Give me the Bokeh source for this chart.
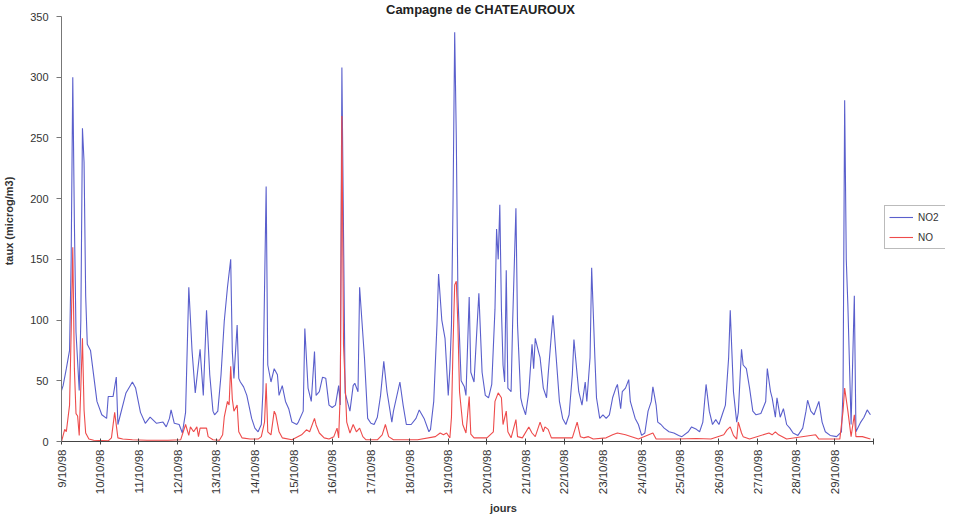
from bokeh.plotting import figure
from bokeh.models import Range1d, FixedTicker, Legend, LegendItem, Label
from bokeh.embed import file_html
from bokeh.resources import INLINE

title_text = "Campagne de CHATEAUROUX"
day_labels = ["9/10/98", "10/10/98", "11/10/98", "12/10/98", "13/10/98", "14/10/98",
              "15/10/98", "16/10/98", "17/10/98", "18/10/98", "19/10/98", "20/10/98",
              "21/10/98", "22/10/98", "23/10/98", "24/10/98", "25/10/98", "26/10/98",
              "27/10/98", "28/10/98", "29/10/98"]
y_ticks = [0, 50, 100, 150, 200, 250, 300, 350]

# hours since 9/10/98 00:00 and concentrations (microg/m3)
no2_hours = [0, 1, 3, 5, 6, 7, 8, 9, 11, 12, 13, 14, 15, 16, 18, 20, 22, 25, 28, 29, 32, 34, 35, 40,
             44, 46, 49, 52, 55, 59, 63, 65, 67, 68, 70, 73, 75, 77, 79, 81, 83, 86, 88, 90, 92, 94,
             95, 97, 99, 101, 103, 105, 106, 107, 109, 110, 111, 113, 115, 118, 120, 122, 124, 125,
             127, 128, 130, 132, 134, 135, 137, 139, 141, 143, 146, 147, 150, 151, 153, 155, 157, 158,
             160, 162, 164, 166, 168, 170, 172, 173, 174, 176, 179, 181, 182, 184, 185, 188, 190, 192,
             194, 196, 198, 200, 202, 205, 206, 210, 212, 214, 217, 220, 222, 225, 228, 229, 231, 233,
             234, 236, 238, 240, 241, 242, 243, 244, 245, 246, 248, 250, 251, 253, 254, 256, 259, 261,
             263, 265, 267, 269, 270, 271, 272, 273, 274, 275, 276, 277, 279, 280, 282, 283, 285, 286,
             288, 290, 292, 293, 294, 296, 297, 299, 301, 302, 304, 305, 307, 309, 311, 313, 315, 317,
             318, 320, 321, 323, 325, 326, 328, 329, 331, 332, 334, 336, 338, 340, 342, 344, 345, 347,
             348, 350, 352, 353, 356, 358, 360, 362, 364, 366, 367, 369, 370, 372, 374, 377, 380, 383,
             385, 389, 391, 394, 396, 398, 400, 402, 404, 406, 408, 410, 412, 414, 415, 417, 419, 420,
             422, 423, 425, 427, 429, 431, 434, 437, 438, 440, 441, 443, 444, 446, 448, 450, 452, 454,
             457, 460, 462, 463, 465, 467, 470, 472, 474, 477, 481, 484, 485, 486, 487, 488, 490, 492,
             493, 496, 498, 500, 502]
no2_values = [42, 46, 60, 75, 150, 300, 180, 90, 42, 100, 258, 230, 120, 80, 75, 54, 33, 22, 19, 37, 37, 53, 14, 40,
              49, 44, 24, 15, 20, 15, 16, 12, 19, 26, 15, 14, 7, 24, 127, 75, 40, 76, 38, 108, 55, 25,
              22, 25, 55, 99, 127, 150, 74, 52, 96, 52, 49, 45, 38, 19, 11, 8, 14, 41,
              210, 63, 49, 60, 55, 38, 46, 33, 27, 16, 14, 16, 25, 93, 44, 33, 74, 38,
              41, 53, 52, 30, 28, 30, 46, 30, 308, 40, 25, 46, 48, 41, 127, 69, 19, 15,
              14, 20, 38, 66, 41, 16, 25, 49, 30, 14, 14, 19, 26, 19, 8, 10, 33, 96,
              138, 100, 85, 38, 60, 96, 200, 337, 250, 120, 50, 45, 38, 119, 57, 49, 122, 57,
              38, 36, 47, 109, 175, 150, 195, 109, 63, 49, 141, 44, 41, 100, 192, 96, 36, 30,
              22, 41, 80, 60, 85, 74, 69, 44, 36, 55, 88, 104, 69, 33, 19, 14, 22, 55,
              84, 55, 41, 30, 49, 33, 69, 143, 69, 36, 19, 22, 19, 22, 36, 44, 47, 27,
              41, 44, 51, 33, 19, 14, 5, 7, 25, 33, 45, 30, 16, 14, 11, 8, 7, 5,
              4, 8, 12, 10, 8, 16, 47, 25, 14, 18, 14, 22, 30, 69, 108, 41, 16, 24,
              76, 63, 60, 44, 25, 22, 23, 33, 60, 41, 36, 20, 36, 20, 27, 14, 11, 7,
              5, 11, 25, 34, 25, 22, 33, 16, 8, 5, 4, 8, 41, 281, 150, 112, 14, 120,
              8, 16, 20, 26, 22]

no_hours = [0, 2, 3, 5, 6, 7, 8, 9, 10, 11, 13, 14, 15, 17, 20, 29, 31, 33, 35, 38, 44, 53, 66, 74,
            77, 79, 80, 82, 84, 85, 86, 90, 91, 94, 98, 100, 101, 103, 104, 105, 106, 107, 109, 110,
            112, 117, 122, 124, 126, 127, 128, 130, 132, 133, 135, 137, 143, 149, 152, 154, 157, 158,
            160, 163, 166, 169, 171, 172, 173, 174, 175, 177, 179, 181, 183, 185, 187, 189, 196, 199,
            201, 203, 206, 221, 232, 235, 237, 239, 241, 242, 243, 244, 245, 246, 247, 249, 251, 253,
            254, 256, 264, 268, 269, 271, 273, 274, 276, 277, 279, 282, 283, 286, 290, 292, 294, 297,
            299, 300, 302, 304, 307, 317, 320, 322, 324, 327, 330, 338, 342, 345, 350, 358, 367, 369,
            382, 394, 403, 411, 413, 415, 417, 419, 420, 422, 423, 427, 439, 441, 443, 445, 450, 468,
            470, 483, 485, 486, 488, 490, 492, 493, 497, 502]
no_values = [0, 10, 8, 30, 90, 160, 60, 23, 21, 5, 85, 26, 7, 2, 1, 0.5, 3, 24, 3, 2, 1.5, 1, 1, 1.5,
             14, 5, 12, 8, 12, 4, 11, 11, 4, 1.5, 1, 5.5, 20, 33, 30, 62, 35, 25, 30, 8,
             3, 2, 2, 4, 16, 48, 8, 5.5, 25, 22, 8, 3, 1.5, 5.5, 9.6, 8, 19, 13.6,
             7, 3, 2, 4, 11, 3, 40, 268, 80, 16, 7, 14, 8, 11, 4, 1.4, 1.4, 5.5,
             14, 4, 1.4, 1.4, 4, 7, 5.5, 7, 3, 20, 80, 129, 132, 96, 41, 14, 7, 37,
             6, 3, 3, 8, 33, 40, 36, 14, 25, 8, 3, 18, 4, 3, 12, 7, 4, 16,
             8, 12, 10, 3, 3, 3, 16, 4, 3, 4, 2, 3, 5.5, 7, 5.5, 2, 7, 2,
             2, 2.5, 2, 5.5, 9.6, 12, 5, 2, 16, 7, 4, 2, 7, 5.5, 8, 5.5, 2, 5.5,
             2, 2, 25, 44, 25, 4, 22, 4, 4, 2]

FONT = "Liberation Sans"
x_end = len(day_labels) * 24          # 30/10/98 00:00
y_end = y_ticks[-1]

# layout: the plot frame spans the canvas to its right and top edges so that the
# title and legend (drawn inside the frame) stay visible; the axes are bounded.
W, H = 945, 518
LEFT = 59
frame_h = 441                         # canvas px from top to the zero line
BOTTOM = H - frame_h
axis_px = 814.0                       # pixel length of the 0..x_end axis
yaxis_px = 425.0                      # pixel length of the 0..y_end axis
frame_w = W - LEFT
p = figure(width=W, height=H, output_backend="svg", toolbar_location=None,
           x_range=Range1d(0, x_end * frame_w / axis_px),
           y_range=Range1d(0, y_end * frame_h / yaxis_px),
           min_border_left=LEFT, min_border_right=0, min_border_top=0,
           min_border_bottom=BOTTOM)
p.outline_line_color = None
p.xgrid.visible = False
p.ygrid.visible = False
p.background_fill_color = "white"

r_no2 = p.line(no2_hours, no2_values, line_color="#5a5fcc", line_width=1.1)
r_no = p.line(no_hours, no_values, line_color="#ee4b4b", line_width=1.1)

# x axis
p.xaxis.bounds = (0, x_end)
p.xaxis.ticker = FixedTicker(ticks=[i * 24 for i in range(len(day_labels) + 1)])
overrides = {i * 24: lab for i, lab in enumerate(day_labels)}
overrides[x_end] = ""
p.xaxis.major_label_overrides = overrides
p.xaxis.major_label_orientation = 1.5708
p.xaxis.major_label_text_font = FONT
p.xaxis.major_label_text_font_size = "11.5px"
p.xaxis.major_label_text_color = "#333333"
p.xaxis.major_label_standoff = 5
p.xaxis.major_tick_in = 3
p.xaxis.major_tick_out = 3
p.xaxis.minor_tick_line_color = None
p.xaxis.axis_line_color = "#444444"
p.xaxis.major_tick_line_color = "#444444"
p.xaxis.axis_label = "jours"
p.xaxis.axis_label_text_font = FONT
p.xaxis.axis_label_text_font_style = "bold"
p.xaxis.axis_label_text_font_size = "11px"
p.xaxis.axis_label_text_color = "#333333"
p.xaxis.axis_label_standoff = 5

# y axis
p.yaxis.bounds = (0, y_end)
p.yaxis.ticker = FixedTicker(ticks=y_ticks)
p.yaxis.major_label_text_font = FONT
p.yaxis.major_label_text_font_size = "11px"
p.yaxis.major_label_text_color = "#333333"
p.yaxis.major_label_standoff = 8
p.yaxis.major_tick_in = 0
p.yaxis.major_tick_out = 5
p.yaxis.minor_tick_line_color = None
p.yaxis.axis_line_color = "#777777"
p.yaxis.major_tick_line_color = "#777777"
p.yaxis.axis_label = "taux (microg/m3)"
p.yaxis.axis_label_text_font = FONT
p.yaxis.axis_label_text_font_style = "bold"
p.yaxis.axis_label_text_font_size = "11px"
p.yaxis.axis_label_text_color = "#333333"
p.yaxis.axis_label_standoff = 12

# title (screen units measured from the plot frame's bottom-left corner)
p.add_layout(Label(x=419, y=frame_h - 1, x_units="screen", y_units="screen", text=title_text,
                   text_font=FONT, text_font_style="bold", text_font_size="13px",
                   text_align="center", text_baseline="top", text_color="#222222"))

legend = Legend(items=[LegendItem(label="NO2", renderers=[r_no2]),
                       LegendItem(label="NO", renderers=[r_no])],
                location=(823, 192))
legend.label_text_font = FONT
legend.label_text_font_size = "10px"
legend.label_text_color = "#333333"
legend.glyph_width = 24
legend.glyph_height = 12
legend.label_height = 14
legend.label_width = 24
legend.label_standoff = 5
legend.padding = 4
legend.spacing = 6
legend.margin = 0
legend.border_line_color = "#777777"
legend.border_line_width = 1
legend.background_fill_color = "white"
p.add_layout(legend, "center")

open("out.html", "w").write(file_html(p, INLINE))
